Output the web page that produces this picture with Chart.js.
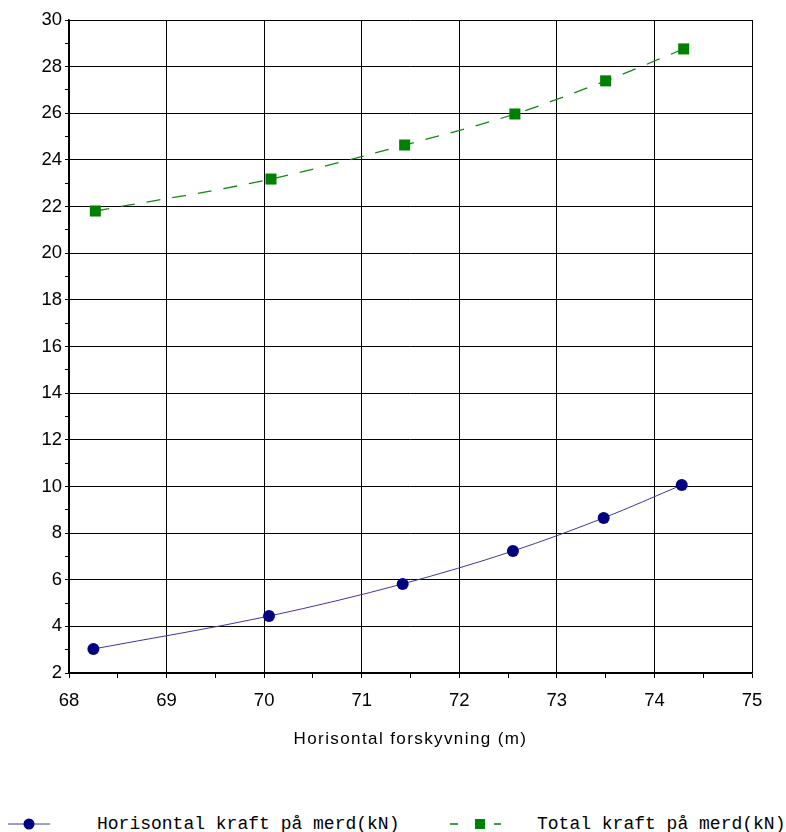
<!DOCTYPE html>
<html>
<head>
<meta charset="utf-8">
<script src="https://cdn.jsdelivr.net/npm/chart.js@4.4.0/dist/chart.umd.min.js"></script>
<style>
    html, body { margin: 0; padding: 0; background: #fff; }
    #wrap { position: relative; width: 786px; height: 832px; overflow: hidden; }
    #grafico { position: absolute; left: 0; top: 0; }
    .legenda { position: absolute; top: 813px; font: 18px "Liberation Mono", monospace; color: #000; white-space: nowrap; }
    .legenda svg { position: absolute; top: 0; }
</style>
</head>
<body>
<div id="wrap">
    <canvas id="grafico" width="786" height="760"></canvas>
    <div class="legenda" style="left:0">
        <svg width="60" height="24" style="left:0"><line x1="8" y1="11" x2="50" y2="11" stroke="#3a3aa0" stroke-width="1"/><circle cx="29" cy="11" r="5.5" fill="#000080"/></svg>
        <span style="position:absolute;left:97px;top:1px">Horisontal kraft på merd(kN)</span>
    </div>
    <div class="legenda" style="left:0">
        <svg width="60" height="24" style="left:446px"><line x1="4" y1="11" x2="12" y2="11" stroke="#008000" stroke-width="1.5"/><line x1="48" y1="11" x2="55" y2="11" stroke="#008000" stroke-width="1.5"/><rect x="29" y="6" width="10" height="10" fill="#008000"/></svg>
        <span style="position:absolute;left:537px;top:1px">Total kraft på merd(kN)</span>
    </div>
</div>
<script>
// forskyvning (m)
var forskyvningHor = [68.25, 70.05, 71.42, 72.55, 73.48, 74.28];
var kraftHor = [3.03, 4.44, 5.82, 7.23, 8.65, 10.06];
var forskyvningTot = [68.27, 70.07, 71.44, 72.57, 73.50, 74.30];
var kraftTot = [21.81, 23.18, 24.64, 25.97, 27.39, 28.76];

function pontos(xs, ys) {
    return xs.map((x, i) => ({ x: x, y: ys[i] }));
}

var fonte = { family: '"Liberation Sans", Arial, sans-serif', size: 18.5 };

var grafico = new Chart(document.getElementById('grafico').getContext('2d'), {
    type: 'line',
    data: {
        datasets: [{
            label: 'Horisontal kraft på merd(kN)',
            data: pontos(forskyvningHor, kraftHor),
            borderColor: '#3a3aa0',
            backgroundColor: '#000080',
            borderWidth: 1,
            pointStyle: 'circle',
            pointRadius: 6,
            pointBorderWidth: 0,
            cubicInterpolationMode: 'monotone'
        }, {
            label: 'Total kraft på merd(kN)',
            data: pontos(forskyvningTot, kraftTot),
            borderColor: '#108a10',
            backgroundColor: '#008000',
            borderWidth: 1.3,
            borderDash: [14, 12],
            pointStyle: 'rect',
            pointRadius: 7.8,
            pointBorderWidth: 0,
            cubicInterpolationMode: 'monotone'
        }]
    },
    options: {
        responsive: false,
        animation: false,
        layout: { padding: { left: 0, right: 34, top: 20, bottom: 0 } },
        plugins: {
            legend: { display: false },
            tooltip: { enabled: false }
        },
        scales: {
            x: {
                type: 'linear',
                min: 68,
                max: 75,
                afterFit: (s) => {
                    s.height = 87;
                    // titulo com espacamento entre letras
                    if (!s._espaco) {
                        var orig = s.drawTitle;
                        s.drawTitle = function () {
                            this.ctx.save();
                            this.ctx.letterSpacing = '1.4px';
                            orig.call(this);
                            this.ctx.restore();
                        };
                        s._espaco = true;
                    }
                },
                border: { color: '#000', width: 1.5 },
                grid: {
                    color: (c) => Number.isInteger(c.tick.value) ? '#000' : 'transparent',
                    tickColor: '#000',
                    tickLength: 5,
                    lineWidth: 1
                },
                ticks: {
                    stepSize: 0.5,
                    autoSkip: false,
                    maxRotation: 0,
                    padding: 12,
                    color: '#000',
                    font: fonte,
                    callback: (v) => Number.isInteger(v) ? String(v) : ''
                },
                title: {
                    display: true,
                    text: 'Horisontal forskyvning (m)',
                    color: '#000',
                    font: { family: '"Liberation Sans", Arial, sans-serif', size: 17 },
                    padding: { top: 0, bottom: 10 }
                }
            },
            y: {
                min: 2,
                max: 30,
                afterFit: (s) => { s.width = 69; },
                border: { color: '#000', width: 1.5 },
                grid: {
                    color: (c) => c.tick.value % 2 === 0 ? '#000' : 'transparent',
                    tickColor: '#000',
                    tickLength: 4,
                    lineWidth: 1
                },
                ticks: {
                    stepSize: 1,
                    autoSkip: false,
                    padding: 3,
                    color: '#000',
                    font: fonte,
                    callback: (v) => v % 2 === 0 ? String(v) : ''
                }
            }
        }
    }
});
</script>
</body>
</html>
